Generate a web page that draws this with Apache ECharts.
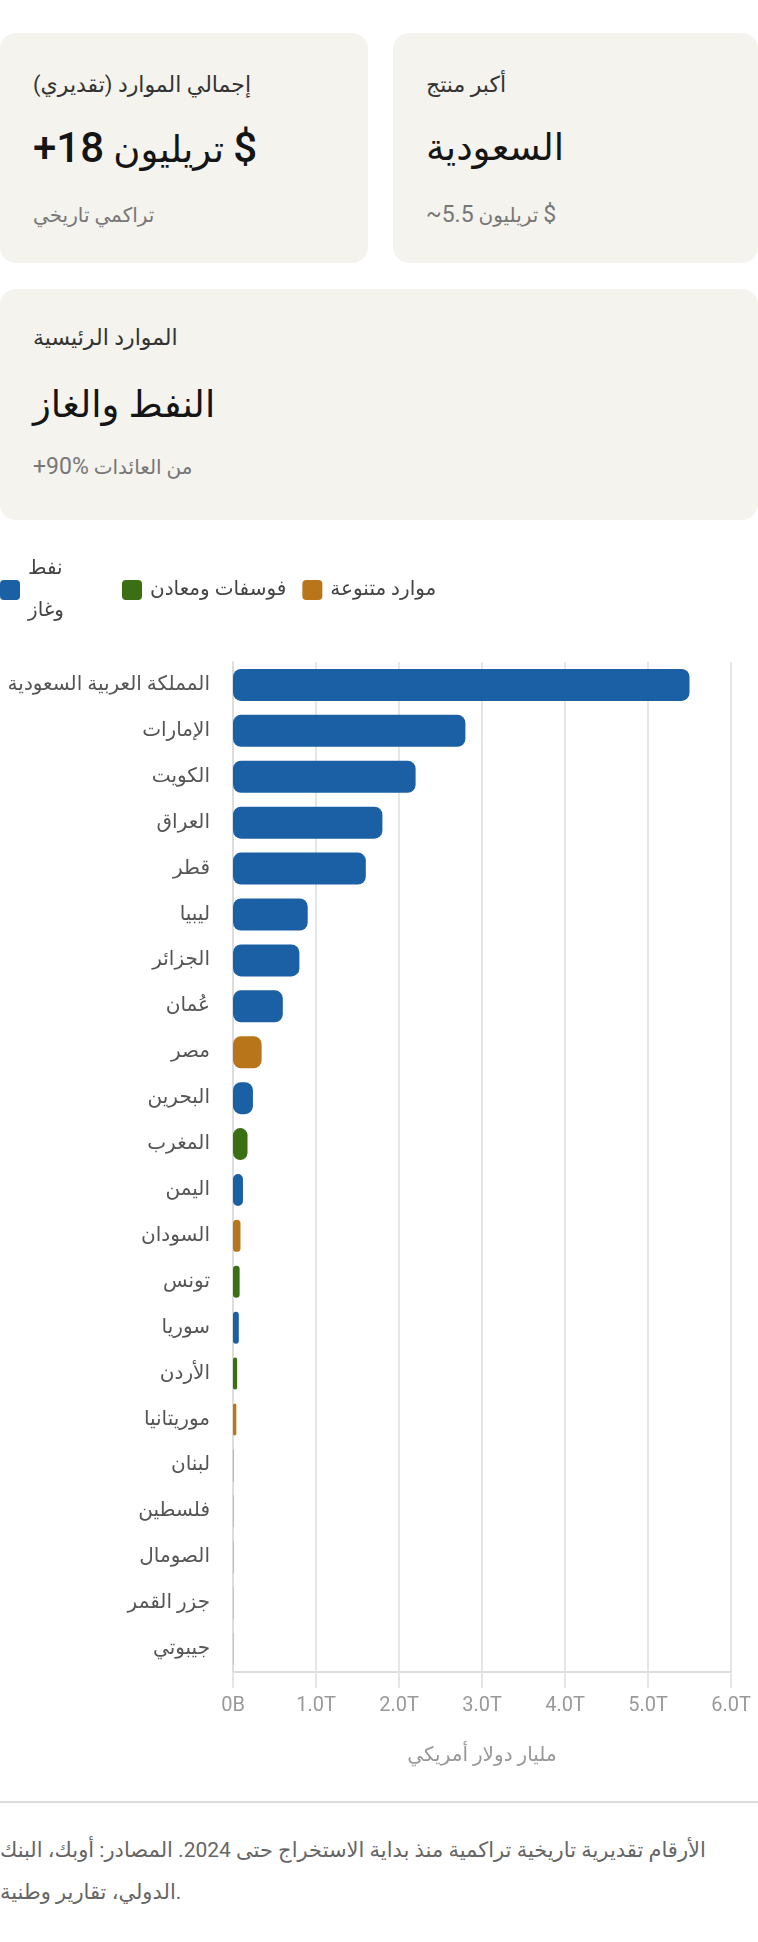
<!DOCTYPE html>
<html lang="ar">
<head>
<meta charset="utf-8">
<script src="https://cdn.jsdelivr.net/npm/echarts@6/dist/echarts.min.js"></script>
<style>
  html, body { margin: 0; padding: 0; background: #ffffff; }
  body { width: 758px; height: 1942px; position: relative; overflow: hidden;
         font-family: Roboto, "DejaVu Sans", sans-serif; direction: ltr; }
  .card { position: absolute; background: #f4f3ee; border-radius: 16px; }
  .t { position: absolute; left: 33px; white-space: nowrap; height: 40px; line-height: 40px; }
  .ttl { font-size: 22px; color: #333333; }
  .val { font-size: 37px; color: #151515; font-weight: 500; height: 60px; line-height: 60px; }
  .val .l { font-size: 42px; }
  .sub { font-size: 20px; color: #777777; }
  .sub .l { font-size: 23px; }
  #chart { position: absolute; left: 0; top: 540px; width: 758px; height: 1250px; }
  #sep { position: absolute; left: 0; top: 1801px; width: 758px; height: 2px; background: #dddddd; }
  #foot { position: absolute; left: 0; top: 1829px; width: 758px; font-size: 21px; line-height: 42px; color: #666666; }
</style>
</head>
<body>
<div class="card" style="left:0;top:33px;width:368px;height:230px;">
  <div class="t ttl" style="top:32px;">إجمالي الموارد (تقديري)</div>
  <div class="t val" style="top:85px;"><span class="l">+18</span> تريليون <span class="l">$</span></div>
  <div class="t sub" style="top:162px;">تراكمي تاريخي</div>
</div>
<div class="card" style="left:393px;top:33px;width:365px;height:230px;">
  <div class="t ttl" style="top:32px;">أكبر منتج</div>
  <div class="t val" style="top:85px;">السعودية</div>
  <div class="t sub" style="top:162px;"><span class="l">~5.5</span> تريليون <span class="l">$</span></div>
</div>
<div class="card" style="left:0;top:289px;width:758px;height:231px;">
  <div class="t ttl" style="top:29px;">الموارد الرئيسية</div>
  <div class="t val" style="top:86px;">النفط والغاز</div>
  <div class="t sub" style="top:158px;"><span class="l">+90%</span> من العائدات</div>
</div>
<div id="chart"></div>
<div id="sep"></div>
<div id="foot">الأرقام تقديرية تاريخية تراكمية منذ بداية الاستخراج حتى 2024. المصادر: أوبك، البنك الدولي، تقارير وطنية.</div>
<script>
// ---- data (billions USD, cumulative) ----
const categories = ['المملكة العربية السعودية','الإمارات','الكويت','العراق','قطر','ليبيا','الجزائر','عُمان','مصر','البحرين','المغرب','اليمن','السودان','تونس','سوريا','الأردن','موريتانيا','لبنان','فلسطين','الصومال','جزر القمر','جيبوتي'];
const values = [5500, 2800, 2200, 1800, 1600, 900, 800, 600, 345, 240, 175, 120, 90, 80, 70, 50, 40, 5, 4, 4, 3, 3];
const resourceType = ['oil','oil','oil','oil','oil','oil','oil','oil','mixed','oil','phos','oil','mixed','phos','oil','phos','mixed','mixed','mixed','mixed','mixed','mixed'];
const seriesNames = ['نفط وغاز', 'فوسفات ومعادن', 'موارد متنوعة'];
const seriesKeys = ['oil', 'phos', 'mixed'];
const seriesColors = ['#1b5fa5', '#3b6f14', '#b97519'];
const tickLabels = ['0B', '1.0T', '2.0T', '3.0T', '4.0T', '5.0T', '6.0T'];
const axisTitle = 'مليار دولار أمريكي';

const FONT = 'Roboto, "DejaVu Sans", sans-serif';
const chart = echarts.init(document.getElementById('chart'), null, { renderer: 'canvas' });

const series = seriesKeys.map((k, i) => ({
  name: seriesNames[i],
  type: 'bar',
  stack: 'all',
  barWidth: 32,
  itemStyle: { color: seriesColors[i], borderRadius: 8 },
  data: values.map((v, j) => resourceType[j] === k ? v : '-')
}));

chart.setOption({
  animation: false,
  textStyle: { fontFamily: FONT },
  legend: {
    left: 0, top: 8, padding: 0,
    itemWidth: 20, itemHeight: 20, itemGap: 16,
    icon: 'path://M4,0 H16 A4,4 0 0 1 20,4 V16 A4,4 0 0 1 16,20 H4 A4,4 0 0 1 0,16 V4 A4,4 0 0 1 4,0 Z',
    textStyle: { fontSize: 20, color: '#444444', fontFamily: FONT, padding: [0, 0, 0, 3] },
    formatter: n => n === seriesNames[0] ? 'نفط\nوغاز' : n,
    data: [
      { name: seriesNames[0], textStyle: { width: 78, lineHeight: 42 } },
      { name: seriesNames[1] },
      { name: seriesNames[2] }
    ],
    selectedMode: false
  },
  grid: { left: 233, right: 27, top: 122, bottom: 118, containLabel: false },
  xAxis: {
    type: 'value', min: 0, max: 6000, interval: 1000,
    name: axisTitle, nameLocation: 'middle', nameGap: 74,
    nameTextStyle: { fontSize: 20, color: '#999999', fontFamily: FONT },
    axisLine: { show: true, lineStyle: { color: '#dddddd', width: 2 } },
    axisTick: { show: true, length: 16, lineStyle: { color: '#e6e6e6', width: 2 } },
    splitLine: { show: true, lineStyle: { color: '#e6e6e6', width: 2 } },
    axisLabel: { fontSize: 20, color: '#999999', margin: 24, fontFamily: FONT,
                 formatter: v => tickLabels[Math.round(v / 1000)] }
  },
  yAxis: {
    type: 'category', data: categories, inverse: true,
    axisLine: { show: true, lineStyle: { color: '#dddddd', width: 2 } },
    axisTick: { show: false },
    axisLabel: { fontSize: 20, color: '#555555', margin: 23, fontFamily: FONT }
  },
  series: series
});
</script>
</body>
</html>
